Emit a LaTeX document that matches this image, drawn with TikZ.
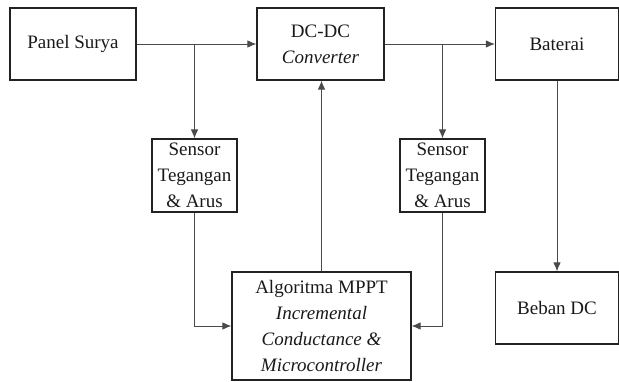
\documentclass[tikz,border=0pt]{standalone}
\usepackage{fontspec}
\setmainfont{Liberation Serif}
\usetikzlibrary{arrows.meta}
\definecolor{boxline}{HTML}{222222}
\definecolor{conn}{HTML}{4A4A4A}
\begin{document}
\begin{tikzpicture}[x=1pt,y=-1pt,
  blk/.style={draw=boxline,line width=1.1pt,rectangle,align=center,inner sep=1pt,
    font=\fontsize{19}{26}\selectfont,text=black!90},
  link/.style={draw=conn,line width=1pt,-{Latex[length=9pt,width=7.5pt]}}]
\useasboundingbox (0,0) rectangle (619,381);
\node[blk,minimum width=126pt,minimum height=72pt] (ps) at (73,44) {Panel Surya};
\node[blk,minimum width=127pt,minimum height=72pt] (dc) at (320.5,44) {DC-DC\\\textit{Converter}};
\node[blk,minimum width=123pt,minimum height=72pt] (bat) at (557,44) {Baterai};
\node[blk,minimum width=85pt,minimum height=73pt] (s1) at (194.5,175.5) {Sensor\\Tegangan\\\& Arus};
\node[blk,minimum width=85pt,minimum height=73pt] (s2) at (442.5,175.5) {Sensor\\Tegangan\\\& Arus};
\node[blk,minimum width=179pt,minimum height=108pt] (alg) at (321.5,326) {Algoritma MPPT\\\textit{Incremental}\\\textit{Conductance \&}\\\textit{Microcontroller}};
\node[blk,minimum width=123pt,minimum height=72pt] (beb) at (557,308) {Beban DC};
\coordinate (j1) at (194.5,44);
\coordinate (j2) at (442.5,44);
\draw[link] (ps.east) -- (dc.west);
\draw[link] (j1) -- (s1.north);
\draw[link] (dc.east) -- (bat.west);
\draw[link] (j2) -- (s2.north);
\draw[link] (bat.south) -- (beb.north);
\draw[link] (alg.north) -- (alg.north |- dc.south);
\draw[link] (s1.south) |- (alg.west);
\draw[link] (s2.south) |- (alg.east);
\end{tikzpicture}
\end{document}
